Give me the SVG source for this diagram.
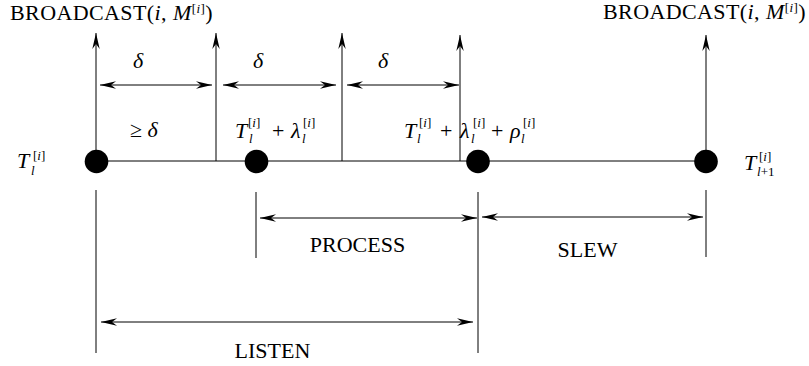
<svg xmlns="http://www.w3.org/2000/svg" width="809" height="366" viewBox="0 0 809 366">
<style>
.ln{stroke:#000;stroke-width:1;fill:none}
.ar{stroke:#000;stroke-width:1;fill:none;marker-end:url(#ah)}
.dar{stroke:#000;stroke-width:1;fill:none;marker-start:url(#ah);marker-end:url(#ah)}
.dot{fill:#000}
text{font-family:"Liberation Serif","Times New Roman",serif;font-size:22px;fill:#000}
.it{font-style:italic}
.sm{font-size:13px}
.bc{letter-spacing:0.4px}
</style>
<defs>
<marker id="ah" viewBox="0 0 16 8" refX="16" refY="4" markerWidth="16" markerHeight="8" markerUnits="userSpaceOnUse" orient="auto-start-reverse">
<path d="M0,0.3 L16,4 L0,7.7 L5,4 Z" fill="#000"/>
</marker>
</defs>
<rect width="809" height="366" fill="#fff"/>
<g id="connectors">
<line class="ln" x1="96" y1="161" x2="706" y2="161"/>
<line class="ar" x1="96" y1="161" x2="96" y2="33"/>
<line class="ar" x1="216" y1="161" x2="216" y2="33"/>
<line class="ar" x1="342" y1="161" x2="342" y2="33"/>
<line class="ar" x1="460" y1="161" x2="460" y2="35"/>
<line class="ar" x1="706" y1="161" x2="706" y2="35"/>
<line class="dar" x1="100" y1="85" x2="212" y2="85"/>
<line class="dar" x1="223" y1="85" x2="336" y2="85"/>
<line class="dar" x1="347" y1="85" x2="459" y2="85"/>
<line class="ln" x1="96" y1="190" x2="96" y2="353"/>
<line class="ln" x1="256" y1="192" x2="256" y2="258"/>
<line class="ln" x1="478" y1="192" x2="478" y2="353"/>
<line class="ln" x1="706" y1="190" x2="706" y2="257"/>
<line class="dar" x1="260" y1="218" x2="477" y2="218"/>
<line class="dar" x1="482" y1="217" x2="703" y2="217"/>
<line class="dar" x1="101" y1="322" x2="473" y2="322"/>
</g>
<g id="bcast1"><text class="bc" x="10" y="20">BROADCAST(<tspan class="it">i</tspan>, <tspan class="it">M</tspan><tspan class="sm" dy="-7">[<tspan class="it">i</tspan>]</tspan><tspan dy="7">)</tspan></text></g>
<g id="bcast2"><text class="bc" x="603" y="19">BROADCAST(<tspan class="it">i</tspan>, <tspan class="it">M</tspan><tspan class="sm" dy="-7">[<tspan class="it">i</tspan>]</tspan><tspan dy="7">)</tspan></text></g>
<g id="delta1"><text class="it" x="138" y="68" text-anchor="middle">δ</text></g>
<g id="delta2"><text class="it" x="258" y="68" text-anchor="middle">δ</text></g>
<g id="delta3"><text class="it" x="383" y="68" text-anchor="middle">δ</text></g>
<g id="geq"><text x="130" y="137">≥ <tspan class="it">δ</tspan></text></g>
<g id="node-Tl">
<circle class="dot" cx="96.5" cy="161.5" r="11.8"/>
<text class="it" x="17" y="168">T</text><text class="sm" x="33" y="160">[<tspan class="it">i</tspan>]</text><text class="sm it" x="31" y="175">l</text>
</g>
<g id="node-Tlambda">
<circle class="dot" cx="256.5" cy="161.5" r="11.8"/>
<text class="it" x="235" y="138">T</text><text class="sm" x="248" y="127">[<tspan class="it">i</tspan>]</text><text class="sm it" x="249" y="143">l</text>
<text x="272" y="138">+</text>
<text class="it" x="291" y="138">λ</text><text class="sm" x="303" y="127">[<tspan class="it">i</tspan>]</text><text class="sm it" x="302" y="143">l</text>
</g>
<g id="node-Tlambdarho">
<circle class="dot" cx="478" cy="161.5" r="11.8"/>
<text class="it" x="404" y="138">T</text><text class="sm" x="419" y="127">[<tspan class="it">i</tspan>]</text><text class="sm it" x="417" y="143">l</text>
<text x="440" y="138">+</text>
<text class="it" x="460" y="138">λ</text><text class="sm" x="473" y="127">[<tspan class="it">i</tspan>]</text><text class="sm it" x="471" y="143">l</text>
<text x="491" y="138">+</text>
<text class="it" x="510" y="138">ρ</text><text class="sm" x="523" y="127">[<tspan class="it">i</tspan>]</text><text class="sm it" x="521" y="143">l</text>
</g>
<g id="node-Tl1">
<circle class="dot" cx="706" cy="161.5" r="11.8"/>
<text class="it" x="744" y="170">T</text><text class="sm" x="759" y="161">[<tspan class="it">i</tspan>]</text><text class="sm" x="757" y="176"><tspan class="it">l</tspan>+1</text>
</g>
<g id="lbl-process"><text x="357.5" y="252" text-anchor="middle">PROCESS</text></g>
<g id="lbl-slew"><text x="587.5" y="257" text-anchor="middle">SLEW</text></g>
<g id="lbl-listen"><text x="272.5" y="358" text-anchor="middle">LISTEN</text></g>
</svg>
